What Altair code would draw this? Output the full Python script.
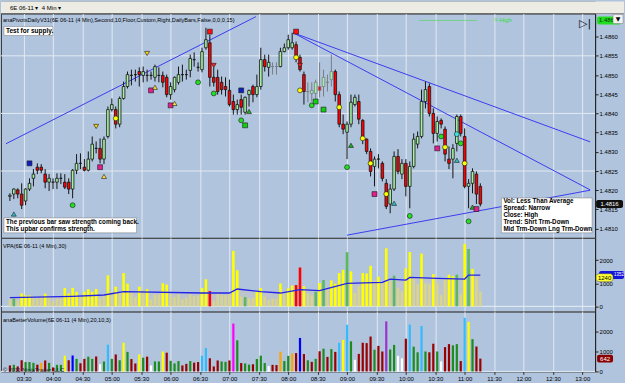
import altair as alt
import pandas as pd

FONT = "Liberation Sans"
BG = "#B0C4DE"
GRID = "#E3E9F1"

DAY = "2011-05-10"
FIRST_BAR = "03:16"
X_START, X_END = "03:12", "13:08"
TIME_TICKS = ["03:30", "04:00", "04:30", "05:00", "05:30", "06:00", "06:30", "07:00",
              "07:30", "08:00", "08:30", "09:00", "09:30", "10:00", "10:30", "11:00",
              "11:30", "12:00", "12:30", "13:00"]
PRICE_TICKS = [1.4810, 1.4815, 1.4820, 1.4825, 1.4830, 1.4835, 1.4840, 1.4845, 1.4850, 1.4855, 1.4860]
PRICE_GRID = [1.4825, 1.4840, 1.4855]
PRICE_DOMAIN = [1.48076, 1.48660]
VOL_TICKS = [0, 1000, 2000]
VPA_DOMAIN = [-228, 2961]
BV_DOMAIN = [0, 3000]

OPEN = [
    1.48184, 1.48190, 1.48201, 1.48190, 1.48172, 1.48203, 1.48231, 1.48260, 1.48260, 1.48242,
    1.48221, 1.48221, 1.48221, 1.48231, 1.48221, 1.48221, 1.48203, 1.48252, 1.48270, 1.48260,
    1.48252, 1.48281, 1.48309, 1.48309, 1.48281, 1.48340, 1.48410, 1.48410, 1.48372, 1.48439,
    1.48470, 1.48499, 1.48501, 1.48509, 1.48499, 1.48499, 1.48499, 1.48494, 1.48499, 1.48499,
    1.48494, 1.48449, 1.48462, 1.48481, 1.48501, 1.48501, 1.48512, 1.48540, 1.48520, 1.48514,
    1.48571, 1.48584, 1.48494, 1.48494, 1.48481, 1.48470, 1.48460, 1.48431, 1.48410, 1.48436,
    1.48403, 1.48449, 1.48470, 1.48449, 1.48470, 1.48540, 1.48520, 1.48522, 1.48522, 1.48522,
    1.48561, 1.48571, 1.48571, 1.48579, 1.48546, 1.48501, 1.48457, 1.48452, 1.48452, 1.48470,
    1.48470, 1.48481, 1.48488, 1.48509, 1.48449, 1.48372, 1.48351, 1.48372, 1.48423, 1.48431,
    1.48382, 1.48333, 1.48301, 1.48262, 1.48281, 1.48270, 1.48218, 1.48164, 1.48203, 1.48288,
    1.48242, 1.48270, 1.48210, 1.48262, 1.48320, 1.48340, 1.48431, 1.48470, 1.48400, 1.48348,
    1.48382, 1.48359, 1.48281, 1.48281, 1.48322, 1.48392, 1.48340, 1.48210, 1.48218, 1.48242,
    1.48210]
HIGH = [
    1.48192, 1.48205, 1.48205, 1.48218, 1.48205, 1.48231, 1.48255, 1.48270, 1.48268, 1.48255,
    1.48242, 1.48231, 1.48244, 1.48244, 1.48242, 1.48231, 1.48255, 1.48294, 1.48296, 1.48281,
    1.48301, 1.48340, 1.48327, 1.48335, 1.48340, 1.48418, 1.48439, 1.48418, 1.48444, 1.48483,
    1.48509, 1.48514, 1.48514, 1.48520, 1.48522, 1.48514, 1.48509, 1.48527, 1.48520, 1.48509,
    1.48501, 1.48481, 1.48496, 1.48522, 1.48527, 1.48514, 1.48553, 1.48559, 1.48533, 1.48571,
    1.48623, 1.48605, 1.48520, 1.48514, 1.48496, 1.48494, 1.48488, 1.48449, 1.48436, 1.48449,
    1.48444, 1.48462, 1.48475, 1.48501, 1.48571, 1.48553, 1.48553, 1.48533, 1.48533, 1.48571,
    1.48582, 1.48605, 1.48610, 1.48587, 1.48553, 1.48509, 1.48481, 1.48481, 1.48488, 1.48533,
    1.48514, 1.48501, 1.48553, 1.48514, 1.48457, 1.48397, 1.48379, 1.48449, 1.48449, 1.48449,
    1.48385, 1.48335, 1.48309, 1.48288, 1.48294, 1.48275, 1.48229, 1.48216, 1.48301, 1.48307,
    1.48281, 1.48281, 1.48275, 1.48348, 1.48353, 1.48462, 1.48483, 1.48478, 1.48413, 1.48392,
    1.48387, 1.48366, 1.48314, 1.48320, 1.48397, 1.48397, 1.48361, 1.48229, 1.48257, 1.48249,
    1.48218]
LOW = [
    1.48172, 1.48177, 1.48179, 1.48151, 1.48161, 1.48198, 1.48210, 1.48242, 1.48244, 1.48205,
    1.48198, 1.48203, 1.48203, 1.48216, 1.48203, 1.48190, 1.48179, 1.48242, 1.48255, 1.48249,
    1.48249, 1.48275, 1.48296, 1.48270, 1.48268, 1.48335, 1.48405, 1.48361, 1.48364, 1.48436,
    1.48465, 1.48473, 1.48483, 1.48470, 1.48481, 1.48483, 1.48488, 1.48483, 1.48481, 1.48468,
    1.48442, 1.48436, 1.48455, 1.48475, 1.48483, 1.48488, 1.48494, 1.48522, 1.48509, 1.48507,
    1.48566, 1.48470, 1.48470, 1.48449, 1.48449, 1.48444, 1.48418, 1.48397, 1.48397, 1.48397,
    1.48397, 1.48418, 1.48429, 1.48442, 1.48462, 1.48509, 1.48496, 1.48501, 1.48501, 1.48520,
    1.48559, 1.48566, 1.48566, 1.48533, 1.48509, 1.48423, 1.48429, 1.48431, 1.48431, 1.48442,
    1.48444, 1.48457, 1.48470, 1.48431, 1.48364, 1.48346, 1.48281, 1.48364, 1.48418, 1.48372,
    1.48320, 1.48294, 1.48236, 1.48210, 1.48257, 1.48223, 1.48151, 1.48140, 1.48198, 1.48242,
    1.48229, 1.48184, 1.48153, 1.48257, 1.48309, 1.48335, 1.48413, 1.48392, 1.48322, 1.48327,
    1.48361, 1.48275, 1.48255, 1.48231, 1.48301, 1.48340, 1.48205, 1.48153, 1.48192, 1.48164,
    1.48158]
CLOSE = [
    1.48187, 1.48203, 1.48190, 1.48161, 1.48203, 1.48218, 1.48242, 1.48252, 1.48252, 1.48221,
    1.48231, 1.48221, 1.48231, 1.48231, 1.48208, 1.48203, 1.48252, 1.48270, 1.48270, 1.48252,
    1.48281, 1.48320, 1.48309, 1.48281, 1.48333, 1.48410, 1.48423, 1.48372, 1.48439, 1.48470,
    1.48501, 1.48499, 1.48501, 1.48501, 1.48509, 1.48499, 1.48499, 1.48522, 1.48499, 1.48481,
    1.48449, 1.48470, 1.48494, 1.48501, 1.48501, 1.48501, 1.48543, 1.48540, 1.48520, 1.48561,
    1.48592, 1.48494, 1.48481, 1.48457, 1.48462, 1.48462, 1.48423, 1.48410, 1.48423, 1.48416,
    1.48442, 1.48460, 1.48449, 1.48470, 1.48540, 1.48522, 1.48533, 1.48522, 1.48522, 1.48561,
    1.48571, 1.48592, 1.48584, 1.48546, 1.48514, 1.48457, 1.48457, 1.48460, 1.48481, 1.48460,
    1.48494, 1.48481, 1.48509, 1.48449, 1.48372, 1.48359, 1.48372, 1.48429, 1.48442, 1.48385,
    1.48340, 1.48301, 1.48249, 1.48281, 1.48281, 1.48231, 1.48158, 1.48203, 1.48288, 1.48249,
    1.48270, 1.48210, 1.48262, 1.48333, 1.48340, 1.48431, 1.48462, 1.48400, 1.48348, 1.48379,
    1.48372, 1.48294, 1.48270, 1.48309, 1.48392, 1.48348, 1.48210, 1.48218, 1.48249, 1.48190,
    1.48164]
GRAY_BARS = [68, 69, 77, 78, 79, 80, 81, 82, 83]

VOLUME = [
    300, 333, 250, 560, 470, 470, 430, 340, 430, 550,
    430, 200, 330, 330, 790, 560, 800, 630, 410, 630,
    740, 630, 750, 360, 500, 1340, 630, 850, 560, 1440,
    980, 620, 400, 850, 690, 740, 300, 500, 500, 1000,
    940, 530, 400, 520, 300, 380, 520, 440, 470, 790,
    1170, 660, 250, 550, 500, 480, 550, 2400, 1560, 420,
    400, 340, 360, 620, 790, 420, 270, 330, 320, 990,
    520, 780, 900, 920, 1680, 870, 560, 480, 630, 1010,
    1140, 730, 1120, 980, 1440, 1580, 2340, 1510, 580, 880,
    1440, 1420, 1750, 1090, 1280, 1000, 2510, 1100, 1330, 780,
    660, 1640, 2350, 1240, 960, 2280, 1000, 960, 1390, 1000,
    500, 1220, 1370, 1310, 1370, 520, 2690, 2480, 1620, 1250,
    642]
VPA_CAT = [
    "p", "g", "p", "y", "y", "y", "p", "p", "p", "y",
    "p", "p", "p", "p", "y", "y", "y", "y", "p", "y",
    "y", "y", "y", "p", "p", "y", "p", "y", "p", "y",
    "y", "p", "p", "y", "p", "y", "p", "p", "p", "y",
    "y", "p", "p", "p", "p", "p", "p", "p", "p", "y",
    "y", "r", "p", "p", "p", "p", "p", "y", "y", "p",
    "g", "p", "p", "y", "y", "p", "p", "p", "p", "y",
    "p", "y", "y", "r", "r", "y", "p", "p", "g", "y",
    "g", "p", "y", "y", "y", "y", "g", "y", "p", "p",
    "y", "y", "y", "p", "y", "p", "y", "p", "g", "p",
    "p", "y", "y", "p", "p", "y", "p", "p", "y", "p",
    "p", "p", "y", "y", "g", "p", "y", "g", "y", "p",
    "p"]
BV_CAT = [
    "dr", "gr", "dr", "dr", "gr", "gr", "gr", "dr", "or", "dr",
    "gr", "dr", "gr", "gr", "ye", "dr", "bl", "gr", "dr", "dr",
    "gr", "gr", "dr", "wh", "gr", "cy", "gr", "dr", "gr", "ye",
    "gr", "dr", "dr", "ye", "gr", "dr", "wh", "gr", "gr", "ye",
    "dr", "gr", "gr", "gr", "dr", "dr", "gr", "dr", "dr", "cy",
    "cy", "dr", "dr", "dr", "gr", "gr", "dr", "mg", "gr", "dr",
    "gr", "gr", "dr", "gr", "gr", "gr", "wh", "dr", "dr", "or",
    "gr", "gr", "or", "dr", "bl", "dr", "gr", "dr", "gr", "dr",
    "gr", "dr", "gr", "dr", "cy", "ye", "cy", "gr", "wh", "dr",
    "dr", "dr", "dr", "gr", "dr", "dr", "pu", "gr", "gr", "wh",
    "wh", "dr", "cy", "gr", "gr", "cy", "gr", "dr", "dr", "gr",
    "wh", "dr", "dr", "gr", "gr", "dr", "cy", "ye", "gr", "dr",
    "dr"]

MA_TIME = ["03:16", "04:20", "04:52", "05:12", "06:32", "07:00", "07:08", "07:32", "07:52", "08:12",
           "08:32", "09:00", "09:36", "09:44", "10:00", "10:04", "10:32", "11:00", "11:04", "11:16"]
MA_VALUE = [375, 432, 490, 634, 576, 576, 749, 634, 576, 720,
            677, 993, 1036, 1180, 1137, 1251, 1208, 1180, 1352, 1352]
VPA_TAG = 1240

MARK_TIME = ["03:20", "03:36", "04:20", "04:44", "04:48", "04:52", "05:04", "05:36", "05:40", "05:44",
             "06:00", "06:04", "06:28", "06:40", "06:44", "06:44", "07:12", "07:12", "07:16", "07:20",
             "08:08", "08:08", "08:12", "08:12", "08:24", "08:28", "08:36", "08:52", "09:00", "09:04",
             "09:16", "09:24", "09:28", "09:40", "09:48", "10:04", "10:32", "10:36", "10:40", "10:52",
             "10:52", "10:56", "11:00", "11:04", "11:08", "11:12"]
MARK_PRICE = [1.48138, 1.48270, 1.48161, 1.48366, 1.48260, 1.48236, 1.48387, 1.48556, 1.48460, 1.48468,
              1.48421, 1.48426, 1.48481, 1.48613, 1.48525, 1.48452, 1.48460, 1.48382, 1.48369, 1.48405,
              1.48613, 1.48546, 1.48525, 1.48460, 1.48421, 1.48431, 1.48410, 1.48416, 1.48260, 1.48317,
              1.48335, 1.48270, 1.48190, 1.48190, 1.48166, 1.48133, 1.48309, 1.48340, 1.48312, 1.48278,
              1.48346, 1.48322, 1.48270, 1.48119, 1.48156, 1.48151]
MARK_KIND = ["cyan_tri_up", "blue_sq", "green_dot", "yellow_tri_dn", "magenta_sq", "yellow_tri_up",
             "yellow_dot", "yellow_tri_dn", "magenta_sq", "yellow_tri_up", "magenta_sq", "yellow_tri_up",
             "green_dot", "red_sq", "red_tri_dn", "green_dot", "blue_sq", "green_dot", "green_sq",
             "green_tri_up", "red_sq", "yellow_dot", "red_tri_dn", "yellow_dot", "green_dot", "green_sq",
             "green_sq", "yellow_dot", "green_dot", "green_tri_up", "yellow_dot", "yellow_dot",
             "magenta_sq", "yellow_dot", "cyan_tri_up", "green_dot", "magenta_sq", "green_dot",
             "yellow_dot", "cyan_tri_up", "cyan_dot", "green_dot", "yellow_dot", "green_dot",
             "green_tri_up", "magenta_sq"]

LINE_ID = ["a", "a", "b", "b", "c", "c", "d", "d"]
LINE_TIME = ["03:12", "07:27", "08:05", "13:08", "08:05", "13:08", "09:00", "13:08"]
LINE_PRICE = [1.48321, 1.48652, 1.48610, 1.48326, 1.48610, 1.48201, 1.48083, 1.48200]

YHIGH = 1.48642
YHIGH_START, YHIGH_END, YHIGH_LABEL_AT = "10:14", "11:12", "11:30"

PANEL_LABEL = "anaPivotsDailyV31(6E 06-11 (4 Min),Second,10,Floor,Custom,Right,DailyBars,False,0,0,0,15)"
VPA_LABEL = "VPA(6E 06-11 (4 Min),30)"
BV_LABEL = "anaBetterVolume(6E 06-11 (4 Min),20,10,3)"
COPYRIGHT = "© 2011 NinjaTrader, LLC"
BOX1 = ["Test for supply."]
BOX2 = ["The previous bar saw strength coming back.", "This upbar confirms strength."]
BOX3 = ["Vol: Less Than Average", "Spread: Narrow", "Close: High", "Trend:  Shrt Trm-Down",
        "Mid Trm-Down  Lng Trm-Down"]
TOOLBAR = ["6E 06-11  ▾", "4 Min  ▾"]

KINDS = ["green_dot", "yellow_dot", "cyan_dot", "magenta_sq", "red_sq", "blue_sq", "green_sq",
         "yellow_tri_dn", "yellow_tri_up", "red_tri_dn", "green_tri_up", "cyan_tri_up"]
SHAPES = ["circle", "circle", "circle", "square", "square", "square", "square",
          "triangle-down", "triangle-up", "triangle-down", "triangle-up", "triangle-up"]
FILLS = ["#22E022", "#FFFF00", "#40E0E0", "#E0208C", "#FF1010", "#1020C0", "#10D010",
         "#FFD700", "#FFE040", "#FF2020", "#20B020", "#30C0C0"]


def iso(hhmm):
    return f"{DAY}T{hhmm}:00Z"


def dt(hhmm):
    h, m = (int(s) for s in hhmm.split(":"))
    return alt.DateTime(year=2011, month=5, date=10, hours=h, minutes=m, utc=True)


bar_times = pd.date_range(f"{DAY} {FIRST_BAR}", periods=len(OPEN), freq="4min")
bars = pd.DataFrame({
    "t": [ts.strftime("%Y-%m-%dT%H:%M:%SZ") for ts in bar_times],
    "o": OPEN, "h": HIGH, "l": LOW, "c": CLOSE, "v": VOLUME, "vpa": VPA_CAT, "bv": BV_CAT,
})
bars["dir"] = ["up" if c > o else ("down" if c < o else "flat") for o, c in zip(OPEN, CLOSE)]
bars["wick"] = ["g" if i + 1 in GRAY_BARS else "k" for i in range(len(OPEN))]

ONE = pd.DataFrame({"k": [0]})

xscale = alt.Scale(type="utc", domain=[dt(X_START), dt(X_END)])
tick_vals = [dt(s) for s in TIME_TICKS]
ax_hidden = alt.Axis(values=tick_vals, labels=False, ticks=False, domain=False, grid=True,
                     gridColor=GRID, gridWidth=1, title="")
ax_bottom = alt.Axis(values=tick_vals, format="%H:%M", labelFontSize=6, labelFont=FONT,
                     labelColor="#000000", tickSize=3, tickColor="#333333", domain=False,
                     grid=True, gridColor=GRID, gridWidth=1, title="", labelPadding=1)


def XT(field, axis=ax_hidden):
    return alt.X(f"{field}:T", scale=xscale, axis=axis)


price_scale = alt.Scale(domain=PRICE_DOMAIN, zero=False, nice=False)
price_axis = alt.Axis(orient="right", values=PRICE_TICKS, format=".4f", labelFontSize=6,
                      labelFont=FONT, labelColor="#000000", tickSize=3, tickColor="#222222",
                      domainColor="#222222", grid=False, title="", labelPadding=1)


def YP(field):
    return alt.Y(f"{field}:Q", scale=price_scale, axis=price_axis)


def text_block(lines, x, y, size=6.5, weight="normal", color="#000000"):
    return alt.Chart(ONE).mark_text(
        align="left", baseline="top", font=FONT, fontSize=size, fontWeight=weight,
        color=color, lineBreak="\n", lineHeight=7
    ).encode(x=alt.value(x), y=alt.value(y), text=alt.value("\n".join(lines)))


def box(x1, x2, y1, y2, fill="#FFFFFF"):
    return alt.Chart(ONE).mark_rect(fill=fill, stroke="#7A7A7A", strokeWidth=0.5).encode(
        x=alt.value(x1), x2=alt.value(x2), y=alt.value(y1), y2=alt.value(y2))


# ---------------- toolbar ----------------
tb_bg = alt.Chart(ONE).mark_rect(fill="#ECEBE4").encode(
    x=alt.value(0), x2=alt.value(625), y=alt.value(0), y2=alt.value(12))
tb_line = alt.Chart(ONE).mark_rule(color="#8E8E8E").encode(
    x=alt.value(0), x2=alt.value(625), y=alt.value(12))
tb_txt = alt.Chart(pd.DataFrame({"label": TOOLBAR, "x": [9, 41]})).mark_text(
    align="left", baseline="middle", font=FONT, fontSize=6, color="#000000"
).encode(x=alt.X("x:Q", scale=None), y=alt.value(6), text="label:N")
toolbar = alt.layer(tb_bg, tb_line, tb_txt).properties(width=596, height=12)

# ---------------- price panel ----------------
grid_l = alt.Chart(pd.DataFrame({"p": PRICE_GRID})).mark_rule(color=GRID, strokeWidth=1).encode(y=YP("p"))
trend = alt.Chart(pd.DataFrame({"id": LINE_ID, "t": [iso(s) for s in LINE_TIME], "p": LINE_PRICE})
                  ).mark_line(color="#3C3CF0", strokeWidth=1, clip=True).encode(
    x=XT("t"), y=YP("p"), detail="id:N")
yh = pd.DataFrame({"t1": [iso(YHIGH_START)], "t2": [iso(YHIGH_END)], "t3": [iso(YHIGH_LABEL_AT)],
                   "p": [YHIGH], "label": ["Y-High"]})
yh_rule = alt.Chart(yh).mark_rule(color="#33DD33", strokeDash=[1, 1], strokeWidth=1).encode(
    x=XT("t1"), x2="t2:T", y=YP("p"))
yh_text = alt.Chart(yh).mark_text(align="left", baseline="middle", font=FONT, fontSize=6,
                                  color="#33DD33").encode(x=XT("t3"), y=YP("p"), text="label:N")
wick = alt.Chart(bars).mark_rule(strokeWidth=1).encode(
    x=XT("t"), y=YP("l"), y2="h:Q",
    color=alt.Color("wick:N", scale=alt.Scale(domain=["k", "g"], range=["#151515", "#767C86"]), legend=None))
body = alt.Chart(bars).mark_bar(size=2.6, strokeWidth=0.8).encode(
    x=XT("t"), y=YP("o"), y2="c:Q",
    fill=alt.Fill("dir:N", scale=alt.Scale(domain=["up", "down", "flat"],
                                           range=["#A6F2A0", "#FF0000", "#000000"]), legend=None),
    stroke=alt.Stroke("wick:N", scale=alt.Scale(domain=["k", "g"], range=["#151515", "#767C86"]), legend=None))
mdf = pd.DataFrame({"t": [iso(s) for s in MARK_TIME], "p": MARK_PRICE, "kind": MARK_KIND})
markers = alt.Chart(mdf).mark_point(filled=True, size=24, stroke="#1A1A1A", strokeWidth=0.6, opacity=1).encode(
    x=XT("t"), y=YP("p"),
    shape=alt.Shape("kind:N", scale=alt.Scale(domain=KINDS, range=SHAPES), legend=None),
    fill=alt.Fill("kind:N", scale=alt.Scale(domain=KINDS, range=FILLS), legend=None))

ptag = pd.DataFrame({"p": [CLOSE[-1]], "label": [f"{CLOSE[-1]:.4f}"]})
ptag_r = alt.Chart(ptag).mark_rect(yOffset=-4, y2Offset=4, cornerRadius=2, fill="#111111").encode(
    x=alt.value(597), x2=alt.value(624), y=YP("p"), y2="p:Q")
ptag_t = alt.Chart(ptag).mark_text(font=FONT, fontSize=6, color="#FFFFFF", baseline="middle").encode(
    x=alt.value(610.5), y=YP("p"), text="label:N")
ytag = pd.DataFrame({"p": [YHIGH], "label": [f"{YHIGH:.4f}"]})
ytag_r = alt.Chart(ytag).mark_rect(yOffset=-4, y2Offset=4, cornerRadius=2, fill="#22DD22").encode(
    x=alt.value(598), x2=alt.value(622), y=YP("p"), y2="p:Q")
ytag_t = alt.Chart(ytag).mark_text(font=FONT, fontSize=6, color="#003300", baseline="middle").encode(
    x=alt.value(609), y=YP("p"), text="label:N")
dd_box = box(614, 624, 1, 10, fill="#F4F4F4")
dd_txt = alt.Chart(ONE).mark_text(font="DejaVu Sans", fontSize=6, color="#000000").encode(
    x=alt.value(619), y=alt.value(5.5), text=alt.value("▼"))
play = alt.Chart(ONE).mark_text(font="DejaVu Sans", fontSize=11, color="#111111").encode(
    x=alt.value(586), y=alt.value(10), text=alt.value("▷|"))

plabel = text_block([PANEL_LABEL], 2, 4, size=5.6)
b1 = box(3, 52, 13, 22)
b1t = text_block(BOX1, 5, 14, size=6.5, weight="bold")
b2 = box(3, 136, 205, 220)
b2t = text_block(BOX2, 5, 206, size=6.3, weight="bold")
b3 = box(502, 593, 185, 220)
b3t = text_block(BOX3, 504, 185.5, size=6.3, weight="bold")

price = alt.layer(
    grid_l, trend, yh_rule, yh_text, wick, body, markers,
    plabel, b1, b1t, b2, b2t, b3, b3t,
    ptag_r, ptag_t, ytag_r, ytag_t, dd_box, dd_txt, play
).resolve_scale(color="independent", fill="independent", stroke="independent",
                shape="independent").properties(width=596, height=225)

# ---------------- VPA panel ----------------
vpa_scale = alt.Scale(domain=VPA_DOMAIN, zero=False, nice=False)
vol_axis = alt.Axis(orient="right", values=VOL_TICKS, format="d", labelFontSize=6, labelFont=FONT,
                    labelColor="#000000", tickSize=3, tickColor="#222222", domainColor="#222222",
                    grid=False, title="", labelPadding=1)
ma = pd.DataFrame({"t": [iso(s) for s in MA_TIME], "v": MA_VALUE})
zero_v = alt.Chart(pd.DataFrame({"v": [0]})).mark_rule(color="#E8EEF5").encode(
    y=alt.Y("v:Q", scale=vpa_scale, axis=vol_axis))
ma_area = alt.Chart(ma).mark_area(color="#C8C4C0", opacity=0.55).encode(
    x=XT("t"), y=alt.Y("v:Q", scale=vpa_scale, axis=vol_axis), y2=alt.datum(0))
vpa_bars = alt.Chart(bars).mark_bar(size=2.6).encode(
    x=XT("t"), y=alt.Y("v:Q", scale=vpa_scale, axis=vol_axis), y2=alt.datum(0),
    color=alt.Color("vpa:N", scale=alt.Scale(domain=["p", "y", "r", "g"],
                                             range=["#D8D48C", "#FFFF00", "#FF0000", "#5CB85C"]), legend=None))
ma_line = alt.Chart(ma).mark_line(color="#2424E6", strokeWidth=1.3).encode(
    x=XT("t"), y=alt.Y("v:Q", scale=vpa_scale, axis=vol_axis))
vtag = pd.DataFrame({"v": [MA_VALUE[-1]], "label": [str(MA_VALUE[-1])]})
vtag2 = pd.DataFrame({"v": [VPA_TAG], "label": [str(VPA_TAG)]})
vtag_r = alt.Chart(vtag).mark_rect(yOffset=-4, y2Offset=4, cornerRadius=2, fill="#1414DC").encode(
    x=alt.value(600), x2=alt.value(625), y=alt.Y("v:Q", scale=vpa_scale, axis=vol_axis), y2="v:Q")
vtag_t = alt.Chart(vtag).mark_text(font=FONT, fontSize=4.5, color="#FFFFFF", baseline="middle",
                                   align="right").encode(
    x=alt.value(625), y=alt.Y("v:Q", scale=vpa_scale, axis=vol_axis), text="label:N")
vtag2_r = alt.Chart(vtag2).mark_rect(yOffset=-4, y2Offset=4, cornerRadius=3, fill="#FFFF30",
                                     stroke="#555555", strokeWidth=0.5).encode(
    x=alt.value(597), x2=alt.value(614), y=alt.Y("v:Q", scale=vpa_scale, axis=vol_axis), y2="v:Q")
vtag2_t = alt.Chart(vtag2).mark_text(font=FONT, fontSize=6, color="#000000", baseline="middle").encode(
    x=alt.value(605.5), y=alt.Y("v:Q", scale=vpa_scale, axis=vol_axis), text="label:N")
vlabel = text_block([VPA_LABEL], 2, 6, size=5.6)
vpa = alt.layer(zero_v, ma_area, vpa_bars, ma_line, vlabel, vtag_r, vtag_t, vtag2_r, vtag2_t
                ).properties(width=596, height=74)

# ---------------- Better volume panel ----------------
bv_scale = alt.Scale(domain=BV_DOMAIN, zero=False, nice=False)
zero_b = alt.Chart(pd.DataFrame({"v": [0]})).mark_rule(color="#E8EEF5").encode(
    y=alt.Y("v:Q", scale=bv_scale, axis=vol_axis))
bv_bars = alt.Chart(bars).mark_bar(size=2.2).encode(
    x=XT("t", ax_bottom), y=alt.Y("v:Q", scale=bv_scale, axis=vol_axis), y2=alt.datum(0),
    color=alt.Color("bv:N", scale=alt.Scale(
        domain=["dr", "gr", "cy", "ye", "bl", "wh", "or", "mg", "pu"],
        range=["#990000", "#1C8C1C", "#33BBFF", "#FFFF00", "#0000FF", "#FFFFFF", "#FFA500",
               "#FF00FF", "#9933CC"]), legend=None))
btag = pd.DataFrame({"v": [VOLUME[-1]], "label": [str(VOLUME[-1])]})
btag_r = alt.Chart(btag).mark_rect(yOffset=-4, y2Offset=4, cornerRadius=2, fill="#8B0000").encode(
    x=alt.value(598), x2=alt.value(614), y=alt.Y("v:Q", scale=bv_scale, axis=vol_axis), y2="v:Q")
btag_t = alt.Chart(btag).mark_text(font=FONT, fontSize=6, color="#FFFFFF", baseline="middle").encode(
    x=alt.value(606), y=alt.Y("v:Q", scale=bv_scale, axis=vol_axis), text="label:N")
blabel = text_block([BV_LABEL], 2, 6, size=5.6)
copy_t = alt.Chart(ONE).mark_text(align="left", baseline="middle", font=FONT, fontSize=5.6,
                                  color="#222222").encode(
    x=alt.value(2), y=alt.value(59), text=alt.value(COPYRIGHT))
bv = alt.layer(zero_b, bv_bars, blabel, copy_t, btag_r, btag_t).properties(width=596, height=60)

chart = alt.vconcat(toolbar, price, vpa, bv, spacing=0, bounds="flush").resolve_scale(
    color="independent", fill="independent", stroke="independent", shape="independent"
).properties(
    padding=0, background=BG
).configure_view(stroke="#3C3C3C", strokeWidth=1, fill=BG)

chart.save("out.html", embed_options={"renderer": "svg", "actions": False})
